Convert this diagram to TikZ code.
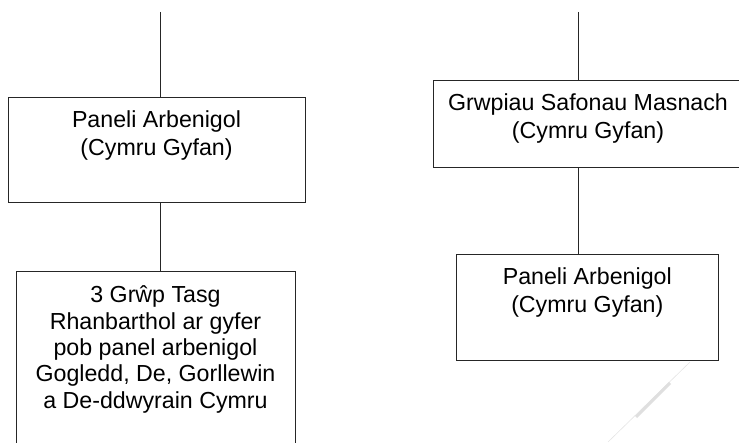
\documentclass[tikz,border=0pt]{standalone}
\usepackage{fontspec}
\setmainfont{Liberation Sans}
\usetikzlibrary{positioning}
\tikzset{
	panel/.style={draw=black!85, line width=0.5pt, rectangle, inner sep=0pt},
	paneltext/.style={align=center, inner sep=0pt, font=\fontsize{11.6}{13.8}\selectfont},
	link/.style={draw=black!85, line width=0.5pt}
}
\begin{document}
\begin{tikzpicture}[x=0.5pt, y=-0.5pt]
		\clip (0,0) rectangle (739,443);
		\coordinate (topL) at (160,12);
		\coordinate (topR) at (578.7,12);
		\node[panel, minimum width=148.5pt, minimum height=52.5pt] (expert) at (156.5,150.5) {};
		\node[panel, minimum width=139.5pt, minimum height=95pt] (region) at (155.5,367) {};
		\node[panel, minimum width=154.7pt, minimum height=43.5pt] (trade) at (588,124.2) {};
		\node[panel, minimum width=131pt, minimum height=52.5pt] (expertR) at (587.3,307.5) {};
		\node[paneltext, below=6.5pt of expert.north] (expertlbl) {Paneli Arbenigol\\(Cymru Gyfan)};
		\node[paneltext, font=\fontsize{11.6}{13.2}\selectfont, below=7pt of region.north] (regionlbl) {3 Grŵp Tasg\\Rhanbarthol ar gyfer\\pob panel arbenigol\\Gogledd, De, Gorllewin\\a De-ddwyrain Cymru};
		\node[paneltext, below=6.5pt of trade.north] (tradelbl) {Grwpiau Safonau Masnach\\(Cymru Gyfan)};
		\node[paneltext, below=6.5pt of expertR.north] (expertRlbl) {Paneli Arbenigol\\(Cymru Gyfan)};
		\draw[link] (topL) -- (expert.north -| topL);
		\draw[link] (expert.south -| topL) -- (region.north -| topL);
		\draw[link] (topR) -- (trade.north -| topR);
		\draw[link] (trade.south -| topR) -- (expertR.north -| topR);
		\draw[gray!20, line width=0.3pt] (690,362) -- (608,442);
		\draw[gray!25, line width=1.5pt] (670,383) -- (636,417);
	\end{tikzpicture}
\end{document}
